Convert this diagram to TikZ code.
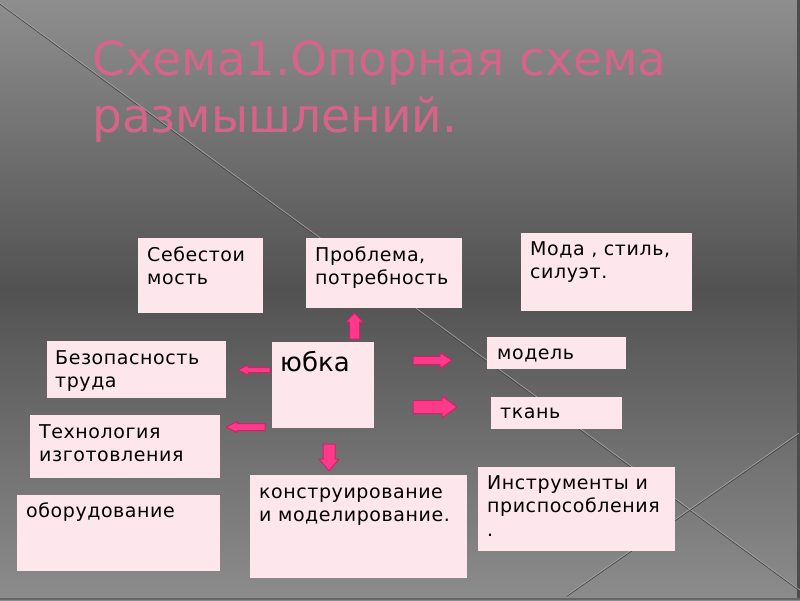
\documentclass[tikz,border=0pt]{standalone}
\usepackage{fontspec}
\setmainfont{DejaVu Sans}
\newfontfamily\boxfont[LetterSpace=3]{DejaVu Sans}
\definecolor{bgtop}{RGB}{142,142,142}
\definecolor{bgmid}{RGB}{82,82,82}
\definecolor{bgbot}{RGB}{140,140,140}
\definecolor{boxpink}{RGB}{253,231,237}
\definecolor{titlepink}{RGB}{214,100,136}
\definecolor{arrfill}{RGB}{255,58,138}
\definecolor{arrline}{RGB}{205,35,105}
\newcommand\barrow[7]{%
  \draw[arr, shift={(#1,#2)}, rotate=#3] (0,-#5) -- ({#4-#7},-#5) -- ({#4-#7},-#6) -- (#4,0) -- ({#4-#7},#6) -- ({#4-#7},#5) -- (0,#5) -- cycle;}
\newcommand\btx[1]{\parbox[t]{230pt}{\boxfont\fontsize{19}{23.5}\selectfont #1}}
\begin{document}
\begin{tikzpicture}[x=1pt,y=-1pt,
  box/.style={fill=boxpink, draw=none, inner sep=0pt, anchor=north west},
  btext/.style={inner sep=0pt, anchor=base west, text=black},
  ttl/.style={font=\fontsize{47}{57}\selectfont, text=titlepink, inner sep=0pt, anchor=base west},
  arr/.style={fill=arrfill, draw=arrline, line width=1pt, line join=round},
  deco/.style={draw={rgb,255:red,160;green,160;blue,160}, line width=0.7pt}]
\useasboundingbox (0,0) rectangle (800,600);
% background
\shade[top color=bgtop, bottom color=bgmid] (0,0) rectangle (800,290);
\shade[top color=bgmid, bottom color=bgbot] (0,289.5) rectangle (800,600);
\fill[black!70] (797,0) rectangle (800,600);
\fill[black!60] (0,598) rectangle (800,600);
% decorative lines
\draw[black!75, line width=0.6pt] (0,4.2) -- (800,591.2);
\draw[deco] (0,3) -- (800,590);
\draw[black!75, line width=0.6pt] (567,596.2) -- (799,434.2);
\draw[deco] (567,595) -- (799,433);
% title
\node[ttl] (t1) at (92,75) {Схема1.Опорная схема};
\node[ttl] (t2) at (92,132) {размышлений.};
% boxes
\node[box, minimum width=125, minimum height=75] (seb) at (138,238) {};
\node[btext] (sebt) at (147,261) {\btx{Себестои\\мость}};
\node[box, minimum width=156, minimum height=70] (prob) at (306,238) {};
\node[btext] (probt) at (315,261) {\btx{Проблема,\\потребность}};
\node[box, minimum width=171, minimum height=78] (moda) at (521,233) {};
\node[btext] (modat) at (530,255) {\btx{Мода , стиль,\\силуэт.}};
\node[box, minimum width=179, minimum height=57] (bez) at (47,341) {};
\node[btext] (bezt) at (55,364) {\btx{Безопасность\\труда}};
\node[box, minimum width=102, minimum height=86] (yub) at (272,342) {};
\node[btext, font=\fontsize{26}{30}\selectfont] (yubt) at (280,371) {юбка};
\node[box, minimum width=190, minimum height=63] (tech) at (30,415) {};
\node[btext] (techt) at (39,438) {\btx{Технология\\изготовления}};
\node[box, minimum width=203, minimum height=76] (obor) at (17,495) {};
\node[btext] (obort) at (26,517) {\btx{оборудование}};
\node[box, minimum width=217, minimum height=103] (kon) at (250,475) {};
\node[btext] (kont) at (259,498) {\btx{конструирование\\и моделирование.}};
\node[box, minimum width=139, minimum height=32] (mod) at (487,337) {};
\node[btext] (modt) at (497,359) {\btx{модель}};
\node[box, minimum width=131, minimum height=32] (tkan) at (491,397) {};
\node[btext] (tkant) at (500,418) {\btx{ткань}};
\node[box, minimum width=197, minimum height=84] (instr) at (478,467) {};
\node[btext] (instrt) at (487,489) {\btx{Инструменты и\\приспособления\\.}};
% block arrows
\barrow{354.5}{339}{90}{26}{5}{8.5}{9}
\barrow{413}{360.5}{0}{39}{4}{8}{12}
\barrow{413}{407}{0}{44}{6.5}{11}{15}
\barrow{270}{370}{180}{32}{2.5}{5}{10}
\barrow{265}{427}{180}{39}{3.5}{5.5}{11}
\barrow{329}{444}{-90}{27}{6}{10}{12}
\end{tikzpicture}
\end{document}
